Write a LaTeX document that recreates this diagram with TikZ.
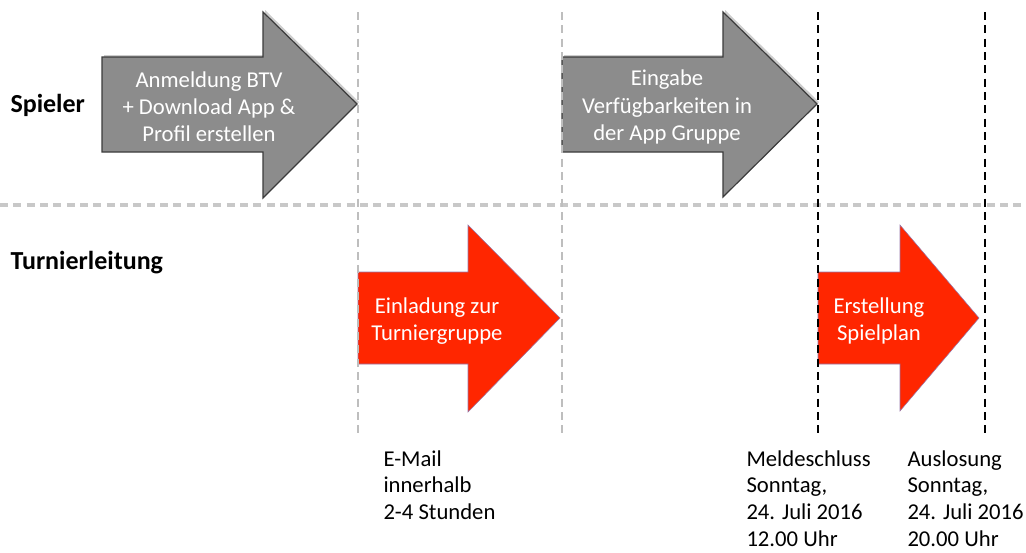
\documentclass[tikz,border=0pt]{standalone}
\usepackage{fontspec}
\setmainfont{Carlito}

\tikzset{every picture/.style={line width=0.75pt}}
\tikzset{
  greyarrow/.style={draw={rgb, 255:red, 60; green, 60; blue, 60}, fill={rgb, 255:red, 140; green, 140; blue, 140}, fill opacity=1, line width=0.9pt},
  greyshadow/.style={fill={rgb, 255:red, 205; green, 205; blue, 205}, draw=none, xshift=1.5pt, yshift=-1.5pt},
  redarrow/.style={draw={rgb, 255:red, 150; green, 120; blue, 170}, fill={rgb, 255:red, 255; green, 38; blue, 0}, fill opacity=1, line width=0.4pt},
  gridline/.style={draw={rgb, 255:red, 190; green, 190; blue, 190}, dash pattern=on 6pt off 4pt, line width=1.6pt},
  laneline/.style={draw={rgb, 255:red, 200; green, 200; blue, 200}, dash pattern=on 6pt off 4pt, line width=3pt},
  deadline/.style={draw=black, dash pattern=on 6pt off 4pt, line width=1.5pt},
  arrowtext/.style={font=\fontsize{17}{20.3}\selectfont, text=white, align=center},
  lanelabel/.style={font=\fontsize{19.5}{23}\selectfont\bfseries, anchor=west, inner sep=0pt},
  notetext/.style={font=\fontsize{17}{20}\selectfont, align=left, anchor=north west, inner sep=0pt}
}

\begin{document}
\begin{tikzpicture}[x=0.75pt,y=0.75pt,yscale=-1,xscale=1]
\useasboundingbox (0,0) rectangle (1026,553);

%Shadow of Right Arrow
\fill [greyshadow] (102,57) -- (263,57) -- (263,12) -- (357,104) -- (263,198) -- (263,152) -- (102,152) -- cycle ;
%Right Arrow
\draw [greyarrow] (102,57) -- (263,57) -- (263,12) -- (357,104) -- (263,198) -- (263,152) -- (102,152) -- cycle ;
%Shadow of Right Arrow
\fill [greyshadow] (562,57) -- (723,57) -- (723,12) -- (817,104) -- (723,197) -- (723,152) -- (562,152) -- cycle ;
%Right Arrow
\draw [greyarrow] (562,57) -- (723,57) -- (723,12) -- (817,104) -- (723,197) -- (723,152) -- (562,152) -- cycle ;

%Right Arrow
\draw [redarrow] (358,272) -- (468,272) -- (468,225) -- (560,318) -- (468,412) -- (468,364) -- (358,364) -- cycle ;
%Right Arrow
\draw [redarrow] (818,272) -- (900,272) -- (900,225) -- (979,318) -- (900,411) -- (900,364) -- (818,364) -- cycle ;

%Straight Lines
\draw [laneline] (0,205) -- (1026,205) ;
\draw [gridline] (358,12) -- (358,437) ;
\draw [gridline] (562,12) -- (562,437) ;
\draw [deadline] (818,12) -- (818,437) ;
\draw [deadline] (985,12) -- (985,437) ;

% Text Node
\draw (10,105) node (spieler) [lanelabel] {Spieler};
% Text Node
\draw (10,263) node (leitung) [lanelabel] {Turnierleitung};
% Text Node
\draw (209,107) node (anmeldung) [arrowtext] {Anmeldung BTV\\+ Download App \&\\Profil erstellen};
% Text Node
\draw (667,107) node (eingabe) [arrowtext] {Eingabe\\Verfügbarkeiten in\\der App Gruppe};
% Text Node
\draw (437,321) node (einladung) [arrowtext] {Einladung zur\\Turniergruppe};
% Text Node
\draw (879,321) node (erstellung) [arrowtext] {Erstellung\\Spielplan};
% Text Node
\draw (383,450) node (email) [notetext] {E-Mail\\innerhalb\\2-4 Stunden};
% Text Node
\draw (746,450) node (meldeschluss) [notetext] {Meldeschluss\\Sonntag,\\24. Juli 2016\\12.00 Uhr};
% Text Node
\draw (907,450) node (auslosung) [notetext] {Auslosung\\Sonntag,\\24. Juli 2016\\20.00 Uhr};

\end{tikzpicture}
\end{document}
